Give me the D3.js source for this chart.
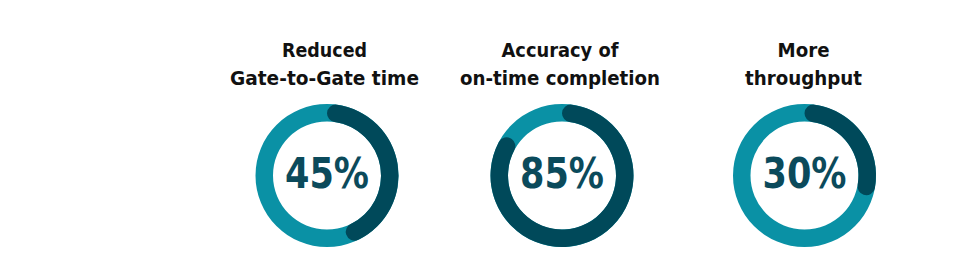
<!DOCTYPE html>
<html><head><meta charset="utf-8">
<script src="https://cdn.jsdelivr.net/npm/d3@7"></script>
<style>html,body{margin:0;padding:0;background:#fff;}svg{display:block;}</style>
</head><body>
<div id="chart"></div>
<script>
const titleLine1 = ["Reduced", "Accuracy of", "More"];
const titleLine2 = ["Gate-to-Gate time", "on-time completion", "throughput"];
const values = [45, 85, 30];
const labels = ["45%", "85%", "30%"];

// layout constants
const W = 960, H = 273;
const centers = [327, 562, 804.5];
const line1Width = [85, 117, 52];
const line2Width = [189, 200, 117];
const titleShift = [-2.5, -2, -1];

const svg = d3.select("#chart").append("svg").attr("width", W).attr("height", H);

const x = d3.scaleOrdinal().domain(d3.range(values.length)).range(centers);
const ang = d3.scaleLinear().domain([0, 100]).range([0, 2 * Math.PI]);
const cy = 175.5, rOut = 71.5, rIn = 54;
const teal = "#0a91a5", dark = "#00495a";

const ring = d3.arc().innerRadius(rIn).outerRadius(rOut).startAngle(0).endAngle(2 * Math.PI);
const arc = d3.arc().innerRadius(rIn).outerRadius(rOut).cornerRadius((rOut - rIn) / 2);

const g = svg.selectAll("g.donut").data(values).join("g")
  .attr("class", "donut")
  .attr("transform", (d, i) => `translate(${x(i)},${cy})`);

g.append("path").attr("d", ring()).attr("fill", teal);
g.append("path").attr("d", d => arc({startAngle: 0, endAngle: ang(d)})).attr("fill", dark);

g.append("text").text((d, i) => labels[i])
  .attr("text-anchor", "middle").attr("y", 12.5)
  .attr("font-family", "DejaVu Sans Condensed, DejaVu Sans").attr("font-weight", "bold")
  .attr("font-size", 42).attr("fill", "#0b4a5b")
  .attr("textLength", 84).attr("lengthAdjust", "spacingAndGlyphs");

const tt = svg.selectAll("g.title").data(values).join("g")
  .attr("class", "title")
  .attr("transform", (d, i) => `translate(${x(i) + titleShift[i]},0)`);
tt.append("text").text((d, i) => titleLine1[i]).attr("y", 56.5)
  .attr("textLength", (d, i) => line1Width[i]);
tt.append("text").text((d, i) => titleLine2[i]).attr("y", 85)
  .attr("textLength", (d, i) => line2Width[i]);
tt.selectAll("text").attr("text-anchor", "middle")
  .attr("lengthAdjust", "spacingAndGlyphs")
  .attr("font-family", "DejaVu Sans Condensed, DejaVu Sans").attr("font-weight", "bold")
  .attr("font-size", 19.5).attr("fill", "#111");
</script>
</body></html>
